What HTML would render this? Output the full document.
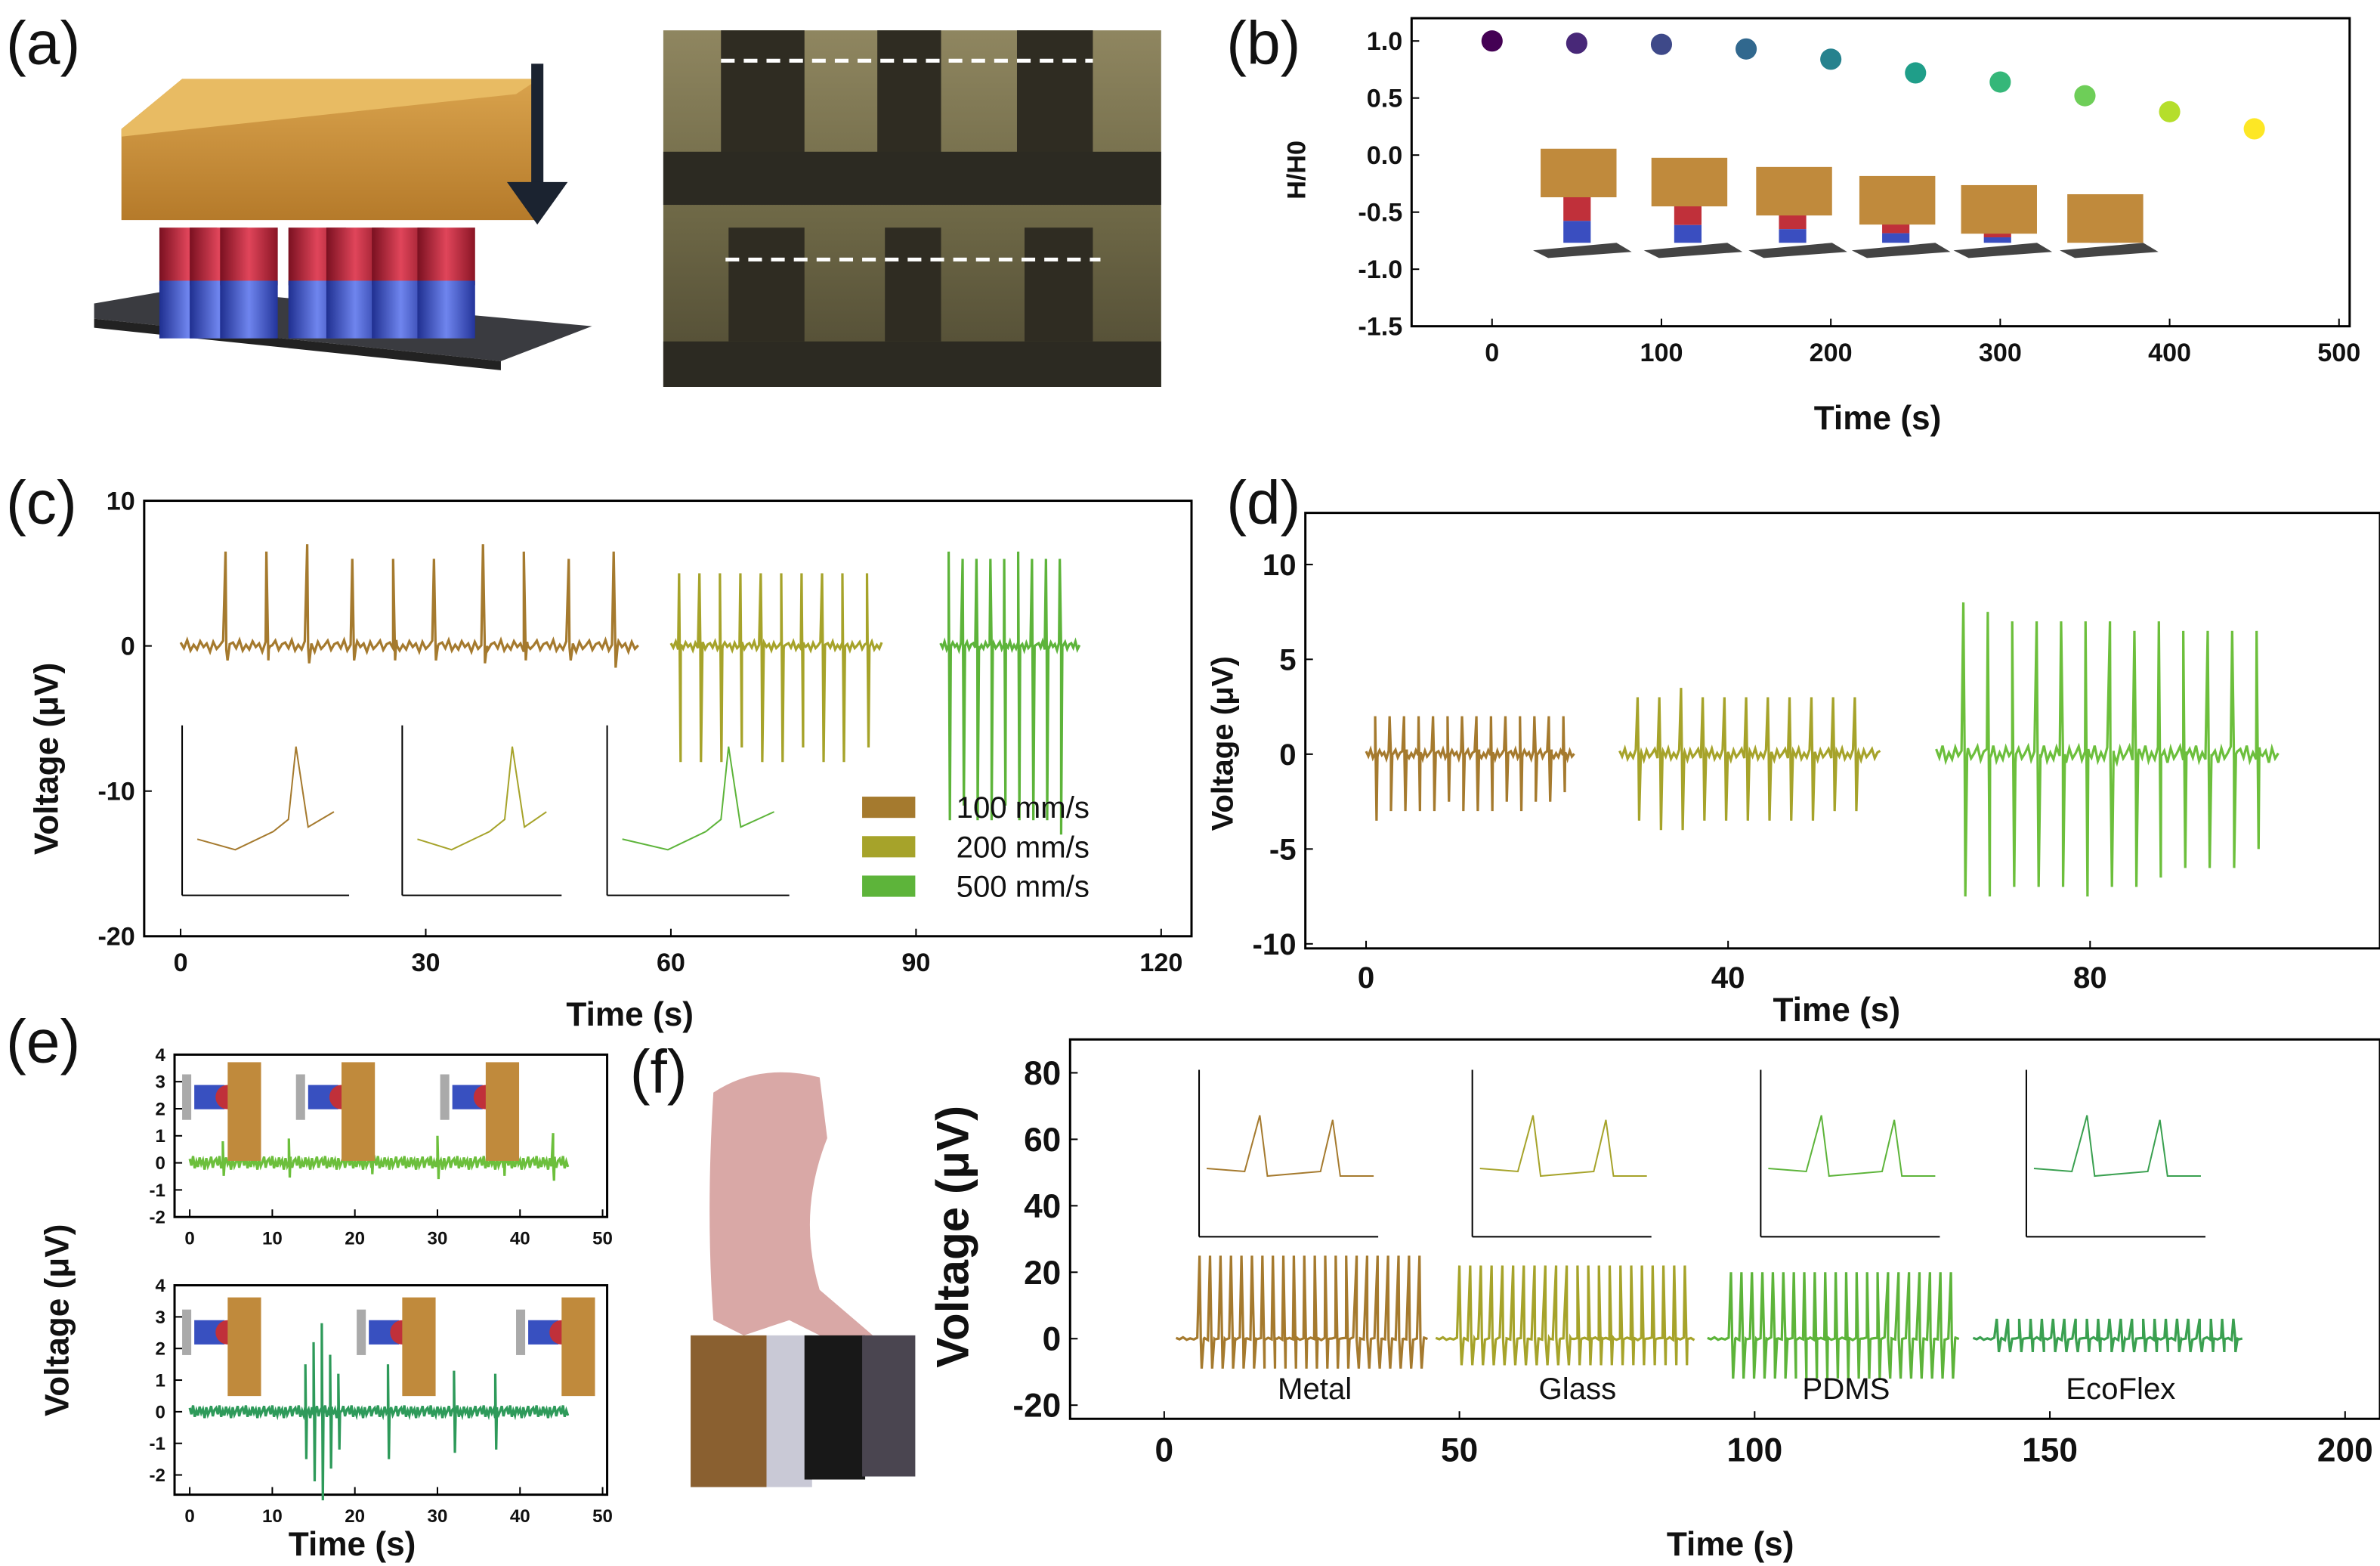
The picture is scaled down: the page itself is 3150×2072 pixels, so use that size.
<!DOCTYPE html>
<html><head><meta charset="utf-8">
<style>
html,body{margin:0;padding:0;background:#fff;}
svg{display:block;font-family:"Liberation Sans",sans-serif;}
</style></head>
<body>
<svg id="fig" xmlns="http://www.w3.org/2000/svg" width="3150" height="2072" viewBox="0 0 1568 1032" preserveAspectRatio="none">
<defs>
<linearGradient id="gBox" x1="0" y1="0" x2="0" y2="1"><stop offset="0" stop-color="#d9a34d"/><stop offset="1" stop-color="#b57a2a"/></linearGradient>
<linearGradient id="gPhoto" x1="0" y1="0" x2="0" y2="1"><stop offset="0" stop-color="#8f8660"/><stop offset="0.5" stop-color="#6f6947"/><stop offset="1" stop-color="#4f4a33"/></linearGradient>
<linearGradient id="gPill" x1="0" y1="0" x2="1" y2="0"><stop offset="0" stop-color="#7a1020"/><stop offset="0.5" stop-color="#e0455a"/><stop offset="1" stop-color="#8a1525"/></linearGradient>
<linearGradient id="gPillB" x1="0" y1="0" x2="1" y2="0"><stop offset="0" stop-color="#1f2f90"/><stop offset="0.5" stop-color="#6f85ee"/><stop offset="1" stop-color="#23349a"/></linearGradient>
</defs>
<g id="root"></g>
</svg>
<script>
// ---------- data ----------
const bTimes=[0,50,100,150,200,250,300,350,400,450];
const bValues=[1.0,0.98,0.97,0.93,0.84,0.72,0.64,0.52,0.38,0.23];
const bColors=['#440154','#482878','#3e4989','#31688e','#26828e','#1f9e89','#35b779','#6ece58','#b5de2b','#fde725'];
const bYTicks=[1.0,0.5,0.0,-0.5,-1.0,-1.5];
const bXTicks=[0,100,200,300,400,500];

const cXTicks=[0,30,60,90,120];
const cYTicks=[10,0,-10,-20];
const cBrownTimes=[5.5,10.5,15.5,21,26,31,37,42,47.5,53];
const cBrownPeaks=[6.5,6.5,7,6,6,6,7,6.5,6,6.5];
const cBrownTroughs=[-1,-1,-1.2,-1,-1,-1,-1.2,-1,-1,-1.5];
const cOliveTimes=[61,63.5,66,68.5,71,73.5,76,78.5,81,84];
const cOlivePeaks=[5,5,5,5,5,5,5,5,5,5];
const cOliveTroughs=[-8,-8,-8,-7,-8,-8,-7,-8,-8,-7];
const cGreenTimes=[94,95.7,97.4,99.1,100.8,102.5,104.2,105.9,107.6];
const cGreenPeaks=[6.5,6,6,6,6,6.5,6,6,6];
const cGreenTroughs=[-12,-11,-12,-12,-11,-12,-12,-12,-13];

const dXTicks=[0,40,80];
const dYTicks=[10,5,0,-5,-10];
const dBrownTimes=[1,2.6,4.2,5.8,7.4,9,10.6,12.2,13.8,15.4,17,18.6,20.2,21.8];
const dBrownPeaks=[2,2,2,2,2,2,2,2,2,2,2,2,2,2];
const dBrownTroughs=[-3.5,-3,-3,-3,-3,-2.5,-3,-3,-3,-2.5,-3,-2.5,-2.5,-2];
const dOliveTimes=[30,32.4,34.8,37.2,39.6,42,44.4,46.8,49.2,51.6,54];
const dOlivePeaks=[3,3,3.5,3,3,3,3,3,3,3,3];
const dOliveTroughs=[-3.5,-4,-4,-3.5,-3.5,-3.5,-3.5,-3.5,-3.5,-3,-3];
const dGreenTimes=[66,68.7,71.4,74.1,76.8,79.5,82.2,84.9,87.6,90.3,93,95.7,98.4];
const dGreenPeaks=[8,7.5,7,7,7,7,7,6.5,7,6.5,6.5,6.5,6.5];
const dGreenTroughs=[-7.5,-7.5,-7,-7,-7,-7.5,-7,-7,-6.5,-6,-6,-6,-5];

const eXTicks=[0,10,20,30,40,50];
const eYTicks=[4,3,2,1,0,-1,-2];
const eTopTimes=[4,12,22,30,38,44];
const eTopPeaks=[0.8,0.9,0.7,1.0,0.8,1.1];
const eBotTimes=[14,15,16,17,18,24,32,37];
const eBotPeaks=[1.5,2.2,2.8,1.8,1.2,1.5,1.3,1.2];

const fXTicks=[0,50,100,150,200];
const fYTicks=[80,60,40,20,0,-20];
const fLabels=['Metal','Glass','PDMS','EcoFlex'];
const fStarts=[6,50,96,141];
const fEnds=[45,90,135,183];
const fPeaks=[25,22,20,6];
const fTroughs=[-9,-8,-12,-4];
const fCounts=[22,22,22,22];

const noisePattern=[0.3,-0.2,0.5,-0.4,0.1,-0.3,0.4,-0.1,0.2,-0.5,0.35,-0.25,0.05,0.45,-0.35,0.15];

// ---------- helpers ----------
const NS='http://www.w3.org/2000/svg';
const root=document.getElementById('root');
function mk(tag,attrs,parent){const e=document.createElementNS(NS,tag);for(const k in attrs)e.setAttribute(k,attrs[k]);(parent||root).appendChild(e);return e;}
function lin(d0,d1,r0,r1){return v=>r0+(v-d0)*(r1-r0)/(d1-d0);}
function txt(x,y,s,size,opts,parent){const t=mk('text',Object.assign({x:x,y:y,'font-size':size,fill:'#111'},opts||{}),parent);t.textContent=s;return t;}

function signal(xs,ys,t0,t1,times,peaks,troughs,noiseAmp,color,name,dt){
  let pts=[];let i=0;
  for(let t=t0;t<=t1;t+=dt){pts.push([xs(t),ys(noisePattern[i%noisePattern.length]*noiseAmp)]);i++;}
  for(let k=0;k<times.length;k++){
    const t=times[k];
    pts.push([xs(t),ys(peaks[k])]);pts.push([xs(t+dt*0.6),ys(troughs[k])]);pts.push([xs(t+dt*1.2),ys(0)]);
  }
  pts.sort((a,b)=>a[0]-b[0]);
  const p=mk('polyline',{points:pts.map(p=>p[0].toFixed(1)+','+p[1].toFixed(1)).join(' '),fill:'none',stroke:color,'stroke-width':1.6});
  
  
  return p;
}
function frame(x0,y0,x1,y1,name){const r=mk('rect',{x:x0,y:y0,width:x1-x0,height:y1-y0,fill:'none',stroke:'#000','stroke-width':1.5});return r;}
function xTicks(xs,ticks,y,size,name){ticks.forEach(v=>{mk('line',{x1:xs(v),x2:xs(v),y1:y,y2:y-5,stroke:'#000'});const t=txt(xs(v),y+size+6,String(v),size,{'text-anchor':'middle','font-weight':'bold'});});}
function yTicks(ys,ticks,x,size,name,fmt){ticks.forEach(v=>{mk('line',{x1:x,x2:x+5,y1:ys(v),y2:ys(v),stroke:'#000'});const t=txt(x-6,ys(v)+size*0.35,fmt?fmt(v):String(v),size,{'text-anchor':'end','font-weight':'bold'});});}
function label(x,y,s){const t=txt(x,y,s,40,{});}

// ---------- (a) ----------
label(4,42,'(a)');
mk('polygon',{points:'62,200 120,190 390,215 330,238 62,210',fill:'#3a3b40'});
mk('polygon',{points:'62,210 330,238 330,244 62,216',fill:'#222'});
[105,125,145,190,215,245,275].forEach((x,i)=>{
  mk('rect',{x:x,y:150,width:38,height:38,fill:'url(#gPill)'});
  mk('rect',{x:x,y:185,width:38,height:38,fill:'url(#gPillB)'});
});
mk('polygon',{points:'80,85 120,52 355,52 355,145 80,145',fill:'url(#gBox)'});
mk('polygon',{points:'80,85 120,52 355,52 340,62 80,90',fill:'#e8bb63'});
const arr=mk('g',{});
mk('rect',{x:350,y:42,width:8,height:80,fill:'#1b2330'},arr);
mk('polygon',{points:'334,120 374,120 354,148',fill:'#1b2330'},arr);
const ph=mk('rect',{x:437,y:20,width:328,height:235,fill:'url(#gPhoto)'});
[[475,530],[578,620],[670,720]].forEach(c=>{mk('rect',{x:c[0],y:20,width:c[1]-c[0],height:90,fill:'#2f2c22'});mk('rect',{x:c[0]+5,y:150,width:c[1]-c[0]-5,height:75,fill:'#2f2c22'});});
mk('rect',{x:437,y:100,width:328,height:35,fill:'#2c2a22'});
mk('rect',{x:437,y:225,width:328,height:30,fill:'#2c2a22'});
mk('line',{x1:475,x2:720,y1:40,y2:40,stroke:'#fff','stroke-width':2.5,'stroke-dasharray':'9,6'});
mk('line',{x1:478,x2:725,y1:171,y2:171,stroke:'#fff','stroke-width':2.5,'stroke-dasharray':'9,6'});

// ---------- (b) ----------
label(808,42,'(b)');
const bx=lin(0,500,983,1541), by=lin(-1.5,1.0,215,27);
frame(930,12,1548,215,'panel-b-frame');
xTicks(bx,bXTicks,215,17,'b-x-tick');
yTicks(by,bYTicks,930,17,'b-y-tick',v=>v.toFixed(1));
txt(1237,283,'Time (s)',22,{'text-anchor':'middle','font-weight':'bold'});
txt(0,0,'H/H0',17,{'text-anchor':'middle','font-weight':'bold',transform:'translate(860,112) rotate(-90)'});
bTimes.forEach((t,i)=>{const c=mk('circle',{cx:bx(t),cy:by(bValues[i]),r:7,fill:bColors[i]});});
[1015,1088,1157,1225,1292,1362].forEach((x,i)=>{
  mk('polygon',{points:`${x-5},165 ${x+50},160 ${x+60},166 ${x+5},170`,fill:'#444'});
  const h=Math.max(0,32-i*6);
  if(h>0){mk('rect',{x:x+15,y:160-h,width:18,height:h*0.55,fill:'#c0303a'});mk('rect',{x:x+15,y:160-h*0.45,width:18,height:h*0.45,fill:'#3a4ec0'});}
  mk('rect',{x:x,y:98+i*6,width:50,height:32,fill:'#c08a3c'});
});

// ---------- (c) ----------
label(4,345,'(c)');
const cx=lin(0,120,119,765), cy=lin(-20,10,617,330);
frame(95,330,785,617,'panel-c-frame');
xTicks(cx,cXTicks,617,17,'c-x-tick');
yTicks(cy,cYTicks,95,17,'c-y-tick');
txt(415,676,'Time (s)',22,{'text-anchor':'middle','font-weight':'bold'});
txt(0,0,'Voltage (μV)',22,{'text-anchor':'middle','font-weight':'bold',transform:'translate(38,500) rotate(-90)'});
signal(cx,cy,0,56,cBrownTimes,cBrownPeaks,cBrownTroughs,0.8,'#a57a2e','c-series-100',0.4);
signal(cx,cy,60,86,cOliveTimes,cOlivePeaks,cOliveTroughs,0.6,'#a6a32a','c-series-200',0.3);
signal(cx,cy,93,110,cGreenTimes,cGreenPeaks,cGreenTroughs,0.6,'#5db43a','c-series-500',0.25);
[[120,230,'#a57a2e'],[265,370,'#a6a32a'],[400,520,'#5db43a']].forEach((b,i)=>{
  mk('line',{x1:b[0],x2:b[0],y1:478,y2:590,stroke:'#000'});mk('line',{x1:b[0],x2:b[1],y1:590,y2:590,stroke:'#000'});
  const m=(b[0]+b[1])/2+20;
  mk('polyline',{points:`${b[0]+10},553 ${m-40},560 ${m-15},548 ${m-5},540 ${m},492 ${m+8},545 ${b[1]-10},535`,fill:'none',stroke:b[2]});
});
[['100 mm/s','#a57a2e',535],['200 mm/s','#a6a32a',561],['500 mm/s','#5db43a',587]].forEach(l=>{
  const r=mk('rect',{x:568,y:l[2]-10,width:35,height:14,fill:l[1]});
  txt(630,l[2]+4,l[0],20,{});
});

// ---------- (d) ----------
label(808,345,'(d)');
const dx=lin(0,80,900,1377), dy=lin(-10,10,622,372);
frame(860,338,1568,625,'panel-d-frame');
xTicks(dx,dXTicks,625,20,'d-x-tick');
yTicks(dy,dYTicks,860,20,'d-y-tick');
txt(1210,673,'Time (s)',22,{'text-anchor':'middle','font-weight':'bold'});
txt(0,0,'Voltage (μV)',20,{'text-anchor':'middle','font-weight':'bold',transform:'translate(812,490) rotate(-90)'});
signal(dx,dy,0,23,dBrownTimes,dBrownPeaks,dBrownTroughs,0.5,'#a57a2e','d-series-brown',0.25);
signal(dx,dy,28,57,dOliveTimes,dOlivePeaks,dOliveTroughs,0.6,'#a6a32a','d-series-olive',0.3);
signal(dx,dy,63,101,dGreenTimes,dGreenPeaks,dGreenTroughs,0.9,'#6cbf3c','d-series-green',0.35);

// ---------- (e) ----------
label(4,700,'(e)');
const ex=lin(0,50,125,397), eyT=lin(-2,4,802,695), eyB=lin(-2,4,972,847);
frame(115,695,400,802,'panel-e-top-frame');
frame(115,847,400,985,'panel-e-bottom-frame');
xTicks(ex,eXTicks,802,12,'e-top-x-tick');
xTicks(ex,eXTicks,985,12,'e-bottom-x-tick');
yTicks(eyT,eYTicks,115,12,'e-top-y-tick');
yTicks(eyB,eYTicks,115,12,'e-bottom-y-tick');
txt(232,1025,'Time (s)',22,{'text-anchor':'middle','font-weight':'bold'});
txt(0,0,'Voltage (μV)',22,{'text-anchor':'middle','font-weight':'bold',transform:'translate(45,870) rotate(-90)'});
signal(ex,eyT,0,46,eTopTimes,eTopPeaks,eTopPeaks.map(v=>-v*0.6),0.5,'#6cbf3c','e-top-series',0.2);
signal(ex,eyB,0,46,eBotTimes,eBotPeaks,eBotPeaks.map(v=>-v),0.4,'#2e9a5a','e-bottom-series',0.2);
[[120,700],[195,700],[290,700],[120,855],[235,855],[340,855]].forEach(p=>{
  mk('rect',{x:p[0],y:p[1]+8,width:6,height:30,fill:'#aaa'});
  mk('rect',{x:p[0]+8,y:p[1]+15,width:20,height:16,fill:'#3850c0'});
  mk('circle',{cx:p[0]+30,cy:p[1]+23,r:8,fill:'#c0303a'});
  mk('rect',{x:p[0]+30,y:p[1],width:22,height:65,fill:'#c08a3c'});
});

// ---------- (f) ----------
label(415,720,'(f)');
const hand=mk('g',{});
mk('path',{d:'M470,720 Q500,700 540,710 L545,750 Q525,800 540,850 L575,880 L560,890 L520,870 L490,880 L470,870 Q465,800 470,720Z',fill:'#d9a8a6'},hand);
mk('rect',{x:455,y:880,width:50,height:100,fill:'#8a6030'},hand);
mk('rect',{x:505,y:880,width:30,height:100,fill:'#c9c9d6'},hand);
mk('rect',{x:530,y:880,width:40,height:95,fill:'#181818'},hand);
mk('rect',{x:568,y:880,width:35,height:93,fill:'#4a4550'},hand);
const fx=lin(0,200,767,1545), fy=lin(-20,80,926,707);
frame(705,685,1568,935,'panel-f-frame');
xTicks(fx,fXTicks,935,22,'f-x-tick');
yTicks(fy,fYTicks,705,22,'f-y-tick');
txt(1140,1025,'Time (s)',22,{'text-anchor':'middle','font-weight':'bold'});
txt(0,0,'Voltage (μV)',30,{'text-anchor':'middle','font-weight':'bold',transform:'translate(638,815) rotate(-90)'});
const fColors=['#a57a2e','#a6a32a','#5db43a','#3aa050'];
fLabels.forEach((lab,i)=>{
  const times=[],pk=[],tr=[];const step=(fEnds[i]-fStarts[i])/fCounts[i];
  for(let k=0;k<fCounts[i];k++){times.push(fStarts[i]+k*step);pk.push(fPeaks[i]);tr.push(fTroughs[i]);}
  signal(fx,fy,fStarts[i]-4,fEnds[i],times,pk,tr,0.8,fColors[i],'f-series-'+lab.toLowerCase(),0.6);
  txt(fx((fStarts[i]+fEnds[i])/2),922,lab,20,{'text-anchor':'middle'});
  const ix=[790,970,1160,1335][i];
  mk('line',{x1:ix,x2:ix,y1:705,y2:815,stroke:'#000'});mk('line',{x1:ix,x2:ix+118,y1:815,y2:815,stroke:'#000'});
  mk('polyline',{points:`${ix+5},770 ${ix+30},772 ${ix+40},735 ${ix+45},775 ${ix+80},772 ${ix+88},738 ${ix+93},775 ${ix+115},775`,fill:'none',stroke:fColors[i]});
});
</script>
</body></html>
